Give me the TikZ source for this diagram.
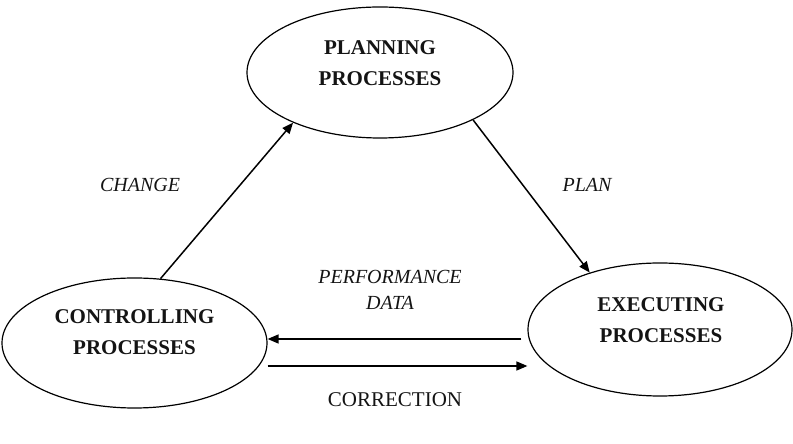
\documentclass[tikz,border=0pt]{standalone}
\usepackage{fontspec}
\setmainfont{Liberation Serif}
\usepackage{xcolor}
\usepackage{tikz}
\usetikzlibrary{positioning, shapes.geometric, arrows.meta, calc}
\definecolor{pmInk}{HTML}{000000}
\definecolor{pmText}{HTML}{141414}
\tikzset{
  process/.style={
    ellipse, draw=pmInk, line width=1.2pt,
    fill=white, inner sep=0pt
  },
  procname/.style={
    align=center, text=pmText,
    font=\fontsize{21}{31}\selectfont\bfseries
  },
  flowlabel/.style={
    align=center, text=pmText,
    font=\fontsize{20}{26}\selectfont\itshape
  },
  uplabel/.style={
    align=center, text=pmText,
    font=\fontsize{21}{26}\selectfont
  },
  arrow/.style={
    -{Triangle[length=11pt, width=9pt]},
    pmInk, line width=1.5pt
  }
}

\begin{document}
\begin{tikzpicture}[x=1pt, y=1pt]
        \useasboundingbox (0, 0) rectangle (793, 444);
        % the three process groups
        \node[process, minimum width=266pt, minimum height=131pt] (plan) at (380, 371.5) {};
        \node[process, minimum width=265pt, minimum height=130pt] (ctrl) at (134.5, 101) {};
        \node[process, minimum width=264pt, minimum height=133pt] (exec) at (660, 114.5) {};
        \node[procname] (plantxt) at ($(plan.center) + (0, 9.5)$) {PLANNING\\PROCESSES};
        \node[procname] (ctrltxt) at ($(ctrl.center) + (0, 11)$) {CONTROLLING\\PROCESSES};
        \node[procname] (exectxt) at ($(exec.center) + (1, 9.5)$) {EXECUTING\\PROCESSES};
        % flows between them
        \draw[arrow] (ctrl.68.6) -- (plan.210.1);
        \draw[arrow] (plan.-27) -- (exec.141.1);
        \draw[arrow] ($(exec.west) + (-6, -9.5)$) -- ($(ctrl.east) + (0, 4)$);
        \draw[arrow] ($(ctrl.east) + (0, -23)$) -- ($(exec.west) + (0, -36.5)$);
        \node[flowlabel] (change) at (140, 259) {CHANGE};
        \node[flowlabel] (planlbl) at (587, 259) {PLAN};
        \node[flowlabel] (perf) at (390, 154) {PERFORMANCE\\DATA};
        \node[uplabel] (corr) at (395, 44) {CORRECTION};
      \end{tikzpicture}
\end{document}
